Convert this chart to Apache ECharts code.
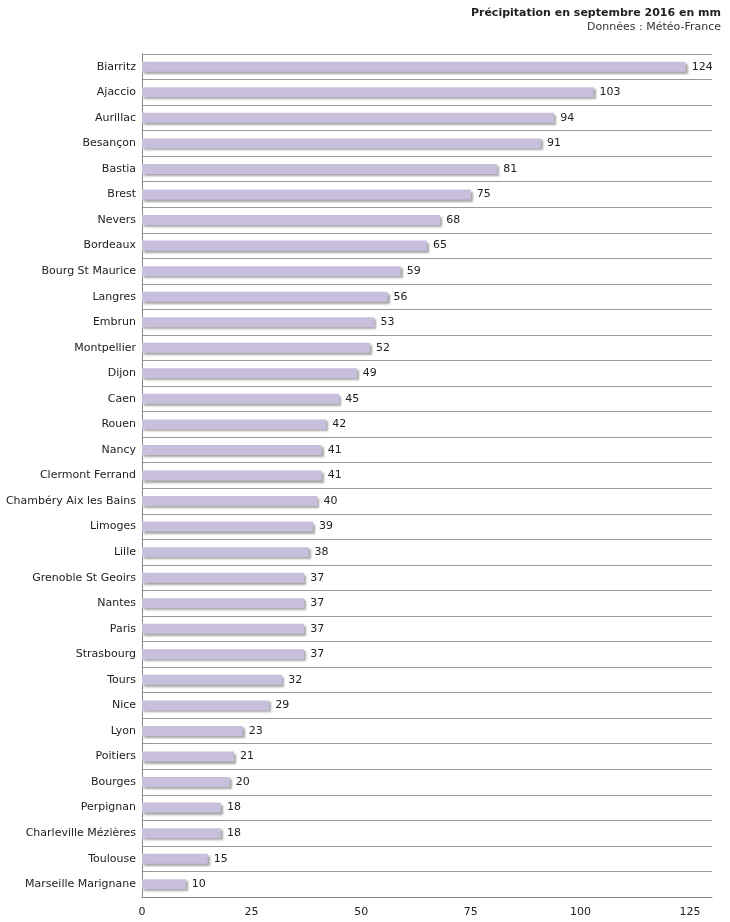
<!DOCTYPE html>
<html><head><meta charset="utf-8">
<script src="https://cdn.jsdelivr.net/npm/echarts@6/dist/echarts.min.js"></script>
<style>body{margin:0}#c{width:730px;height:922px}</style>
</head><body><div id="c"></div>
<script>
var cities = ["Biarritz","Ajaccio","Aurillac","Besançon","Bastia","Brest","Nevers","Bordeaux","Bourg St Maurice","Langres","Embrun","Montpellier","Dijon","Caen","Rouen","Nancy","Clermont Ferrand","Chambéry Aix les Bains","Limoges","Lille","Grenoble St Geoirs","Nantes","Paris","Strasbourg","Tours","Nice","Lyon","Poitiers","Bourges","Perpignan","Charleville Mézières","Toulouse","Marseille Marignane"];
var rain = [124,103,94,91,81,75,68,65,59,56,53,52,49,45,42,41,41,40,39,38,37,37,37,37,32,29,23,21,20,18,18,15,10];

var chart = echarts.init(document.getElementById('c'));
chart.setOption({
    animation: false,
    textStyle: {fontFamily: 'DejaVu Sans'},
    title: [
        {text: 'Précipitation en septembre 2016 en mm', right: 4, top: 3,
         textStyle: {fontSize: 11, fontWeight: 'bold', color: '#222'}},
        {text: 'Données : Météo-France', right: 4, top: 17,
         textStyle: {fontSize: 11, fontWeight: 'normal', color: '#333'}}
    ],
    grid: {left: 142, right: 18, top: 54, bottom: 25},
    xAxis: {
        type: 'value', min: 0, max: 130, interval: 25,
        axisLine: {show: true, lineStyle: {color: '#888'}},
        axisTick: {show: false},
        splitLine: {show: false},
        axisLabel: {color: '#222', fontSize: 11, margin: 10,
            formatter: function (v) { return v > 125 ? '' : v; }}
    },
    yAxis: {
        type: 'category', data: cities, inverse: true,
        axisLine: {show: true, lineStyle: {color: '#888'}},
        axisTick: {show: false},
        splitLine: {show: true, lineStyle: {color: '#999'}},
        axisLabel: {color: '#222', fontSize: 11, margin: 6}
    },
    series: [{
        type: 'bar', data: rain, barWidth: 10,
        itemStyle: {color: '#c8bfdc', shadowColor: 'rgba(0,0,0,0.35)', shadowBlur: 2, shadowOffsetX: 2, shadowOffsetY: 2},
        label: {show: true, position: 'right', color: '#222', fontSize: 11, distance: 6}
    }]
});
</script></body></html>
